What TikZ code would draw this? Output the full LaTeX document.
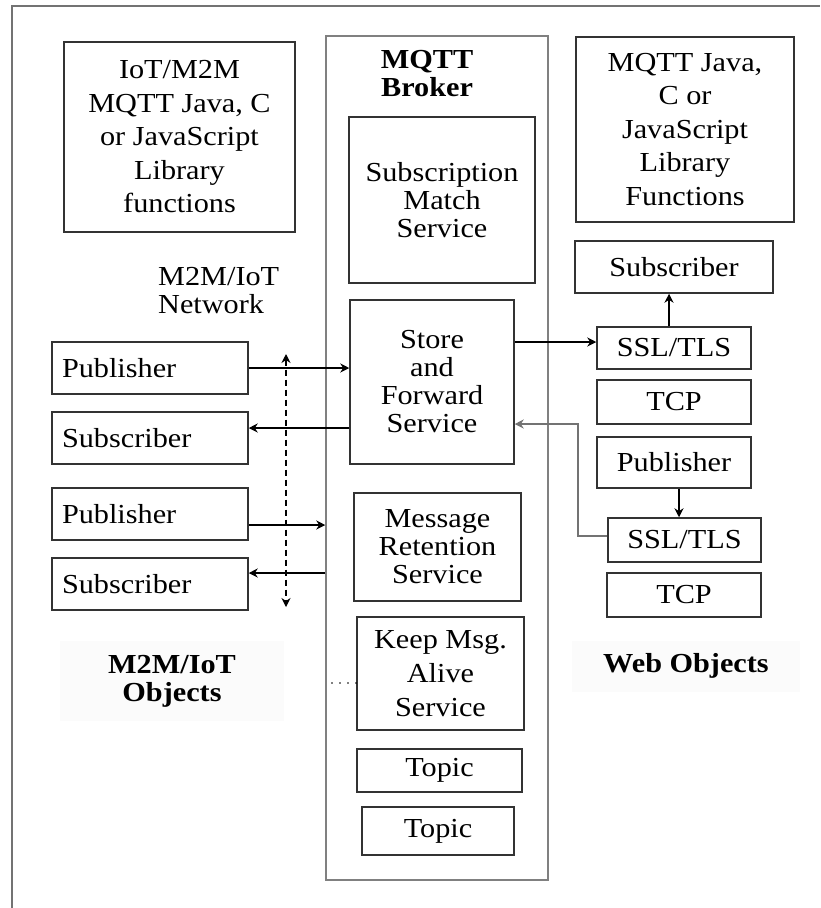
\documentclass[tikz,border=0pt]{standalone}
\usepackage{fontspec}
\setmainfont{Liberation Serif}[FakeStretch=1.1]
\usetikzlibrary{arrows.meta}
\newcommand\fsN{\fontsize{27.5pt}{28pt}\selectfont}
\newcommand\fsW{\fontsize{27.5pt}{33.5pt}\selectfont}
\begin{document}
\begin{tikzpicture}[x=1pt,y=-1pt,
  box/.style={draw=black!80, line width=1.5pt, inner sep=0pt, align=center, font=\fsN, fill=white},
  lbox/.style={box, text width=#1, align=left},
  arr/.style={line width=1.2pt, -{Stealth[length=9pt,width=9pt,inset=3pt]}},
  grayarr/.style={arr, draw=black!55},
  dasharr/.style={line width=1.2pt, dashed, dash pattern=on 6pt off 4pt, {Stealth[length=9pt,width=9pt,inset=3pt]}-{Stealth[length=9pt,width=9pt,inset=3pt]}},
  lbl/.style={font=\fsN\bfseries, align=center, fill=black!1.5, inner sep=0pt},
]
\useasboundingbox (0,0) rectangle (820,908);
% outer frame
\draw[draw=black!55, line width=2pt] (12,908) -- (12,6) -- (820,6);

% broker
\node[box, draw=black!50, minimum width=222pt, minimum height=844pt] (broker) at (437,458) {};
\node[font=\fsN\bfseries, align=center, inner sep=0pt] (btitle) at (427,74) {MQTT\\Broker};
\node[box, minimum width=186pt, minimum height=166pt] (sms) at (442,200) {Subscription\\Match\\Service};
\node[box, minimum width=164pt, minimum height=164pt] (store) at (432,382) {Store\\and\\Forward\\Service};
\node[box, minimum width=167pt, minimum height=108pt] (ret) at (437.5,547) {Message\\Retention\\Service};
\node[box, font=\fontsize{27.5pt}{34pt}\selectfont, minimum width=167pt, minimum height=113pt] (keep) at (440.5,673.5) {Keep Msg.\\Alive\\Service};
\node[box, minimum width=165pt, minimum height=43pt] (topic1) at (439.5,770.5) {Topic};
\node[box, minimum width=152pt, minimum height=48pt] (topic2) at (438,831) {Topic};

% left side
\node[box, font=\fsW, minimum width=231pt, minimum height=190pt] (lib1) at (179.5,137) {IoT/M2M\\MQTT Java, C\\or JavaScript\\Library\\functions};
\node[font=\fsN, align=left, inner sep=0pt, anchor=west] (net) at (158,291) {M2M/IoT\\Network};
\node[lbox=176pt, minimum width=196pt, minimum height=52pt, inner xsep=10pt] (pub1) at (150,368) {Publisher};
\node[lbox=176pt, minimum width=196pt, minimum height=52pt, inner xsep=10pt] (sub1) at (150,438) {Subscriber};
\node[lbox=176pt, minimum width=196pt, minimum height=52pt, inner xsep=10pt] (pub2) at (150,514) {Publisher};
\node[lbox=176pt, minimum width=196pt, minimum height=52pt, inner xsep=10pt] (sub2) at (150,584) {Subscriber};
\node[lbl, minimum width=224pt, minimum height=80pt] (m2mobj) at (172,681) {M2M/IoT\\Objects};

% right side
\node[box, font=\fsW, minimum width=218pt, minimum height=185pt] (lib2) at (685,129.5) {MQTT Java,\\C or\\JavaScript\\Library\\Functions};
\node[box, minimum width=198pt, minimum height=52pt] (subR) at (674,267) {Subscriber};
\node[box, minimum width=154pt, minimum height=42pt] (ssl1) at (674,348) {SSL/TLS};
\node[box, minimum width=154pt, minimum height=44pt] (tcp1) at (674,402) {TCP};
\node[box, minimum width=154pt, minimum height=51pt] (pubR) at (674,462.5) {Publisher};
\node[box, minimum width=153pt, minimum height=44pt] (ssl2) at (684.5,540) {SSL/TLS};
\node[box, minimum width=154pt, minimum height=44pt] (tcp2) at (684,595) {TCP};
\node[lbl, minimum width=228pt, minimum height=51pt] (webobj) at (686,666) {Web Objects};

% connectors left
\draw[arr] (pub1.east) -- (pub1.east -| store.west);
\draw[arr] (store.west |- 0,428) -- (sub1.east |- 0,428);
\draw[arr] (pub2.east |- 0,525) -- (broker.west |- 0,525);
\draw[arr] (broker.west |- 0,573) -- (sub2.east |- 0,573);
\coordinate (dtop) at (286,354);
\coordinate (dbot) at (286,607);
\draw[dasharr] (dtop) -- (dbot);
\coordinate (dotstart) at (332,683);
\draw[line width=1.6pt, line cap=round, dash pattern=on 0pt off 8pt] (dotstart) -- (dotstart -| keep.west);

% connectors right
\draw[arr] (store.east |- 0,342) -- (ssl1.west |- 0,342);
\draw[arr] (ssl1.north -| 669,0) -- (subR.south -| 669,0);
\draw[arr] (pubR.south -| 679,0) -- (ssl2.north -| 679,0);
\draw[grayarr] (ssl2.west |- 0,536) -- (578,536) -- (578,424) -- (store.east |- 0,424);
\end{tikzpicture}
\end{document}
